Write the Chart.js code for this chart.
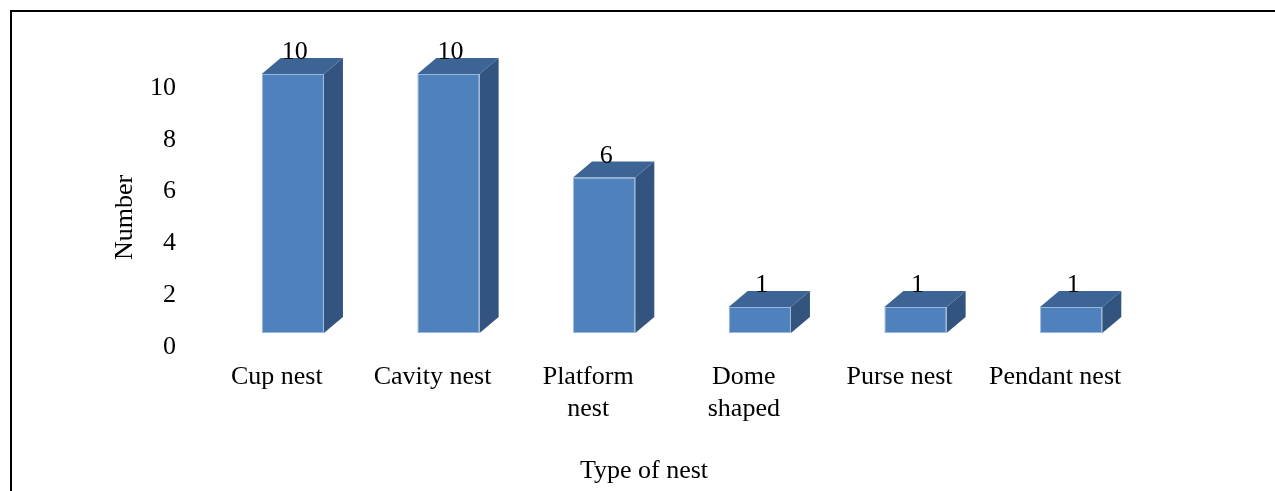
<!DOCTYPE html>
<html>
<head>
<meta charset="utf-8">
<script src="https://cdn.jsdelivr.net/npm/chart.js@4/dist/chart.umd.min.js"></script>
<style>
  html, body { margin: 0; padding: 0; background: #ffffff; }
  #wrap { width: 1275px; height: 491px; position: relative; }
</style>
</head>
<body>
<div id="wrap"><canvas id="chart" width="1275" height="491"></canvas></div>
<script>
// Nest types and counts
const categories = ['Cup nest', 'Cavity nest', ['Platform', 'nest'], ['Dome', 'shaped'], 'Purse nest', 'Pendant nest'];
const counts = [10, 10, 6, 1, 1, 1];
const yTicks = [0, 2, 4, 6, 8, 10];
const xTitle = 'Type of nest';

const FONT = "'Liberation Serif', 'Times New Roman', serif";
const FRONT = '#4F81BD';
const TOP = '#3C6494';
const SIDE = '#32547E';

// Pseudo-3D offsets: front faces sit in front of the axis plane
const SHIFT_X = 16, SHIFT_Y = -14;
const DEPTH_X = 19, DEPTH_Y = -16;

const box3d = {
  id: 'box3d',
  beforeDraw(chart) {
    const ctx = chart.ctx;
    ctx.save();
    ctx.fillStyle = '#ffffff';
    ctx.fillRect(0, 0, chart.width, chart.height);
    // frame around the figure
    ctx.strokeStyle = '#000000';
    ctx.lineWidth = 2;
    ctx.beginPath();
    ctx.moveTo(11, chart.height + 2);
    ctx.lineTo(11, 11);
    ctx.lineTo(chart.width + 2, 11);
    ctx.stroke();
    ctx.restore();
  },
  beforeDatasetsDraw(chart) {
    const ctx = chart.ctx;
    ctx.save();
    ctx.translate(SHIFT_X, SHIFT_Y);
    const meta = chart.getDatasetMeta(0);
    meta.data.forEach((bar) => {
      const p = bar.getProps(['x', 'y', 'base', 'width'], true);
      const l = p.x - p.width / 2, r = p.x + p.width / 2;
      const t = p.y, b = p.base;
      // side face
      ctx.fillStyle = SIDE;
      ctx.beginPath();
      ctx.moveTo(r, b);
      ctx.lineTo(r + DEPTH_X, b + DEPTH_Y);
      ctx.lineTo(r + DEPTH_X, t + DEPTH_Y);
      ctx.lineTo(r, t);
      ctx.closePath();
      ctx.fill();
      // top face
      ctx.fillStyle = TOP;
      ctx.beginPath();
      ctx.moveTo(l, t);
      ctx.lineTo(l + DEPTH_X, t + DEPTH_Y);
      ctx.lineTo(r + DEPTH_X, t + DEPTH_Y);
      ctx.lineTo(r, t);
      ctx.closePath();
      ctx.fill();
    });
    // front faces are drawn by the bar controller inside this transform
  },
  afterDatasetsDraw(chart) {
    const ctx = chart.ctx;
    ctx.restore();
    const meta = chart.getDatasetMeta(0);
    ctx.save();
    ctx.fillStyle = '#000000';
    ctx.font = '26px ' + FONT;
    ctx.textAlign = 'center';
    ctx.textBaseline = 'alphabetic';
    meta.data.forEach((bar, i) => {
      const p = bar.getProps(['x', 'y'], true);
      ctx.fillText(String(counts[i]), p.x + SHIFT_X + 2, p.y + SHIFT_Y + DEPTH_Y + 1);
    });
    // category axis title, centred under the full bar span
    const xs = chart.scales.x;
    ctx.textBaseline = 'middle';
    ctx.fillText(xTitle, (xs.left + xs.right) / 2 - 22, 471);
    ctx.restore();
  }
};

new Chart(document.getElementById('chart'), {
  type: 'bar',
  data: {
    labels: categories,
    datasets: [{
      data: counts,
      backgroundColor: FRONT,
      borderColor: 'rgba(140,175,220,0.9)',
      borderWidth: 1,
      borderSkipped: false,
      barPercentage: 0.4,
      categoryPercentage: 1.0,
      clip: false
    }]
  },
  options: {
    responsive: false,
    animation: false,
    events: [],
    layout: { padding: { left: 0, right: 142, top: 88, bottom: 0 } },
    plugins: {
      legend: { display: false },
      tooltip: { enabled: false }
    },
    scales: {
      x: {
        grid: { display: false, drawTicks: false },
        border: { display: false },
        ticks: {
          color: '#000000',
          font: { family: FONT, size: 26, lineHeight: 1.2 },
          padding: 15,
          maxRotation: 0,
          autoSkip: false
        },
        title: { display: false },
        afterFit(scale) { scale.height = 144; }
      },
      y: {
        min: 0,
        max: 10,
        afterBuildTicks(scale) { scale.ticks = yTicks.map(v => ({ value: v })); },
        grid: { display: false, drawTicks: false },
        border: { display: false },
        ticks: {
          color: '#000000',
          font: { family: FONT, size: 26 },
          padding: 23
        },
        title: {
          display: true,
          text: 'Number',
          color: '#000000',
          font: { family: FONT, size: 26 },
          padding: { top: 110, bottom: 0 }
        },
        afterFit(scale) { scale.width = 199; }
      }
    }
  },
  plugins: [box3d]
});
</script>
</body>
</html>
